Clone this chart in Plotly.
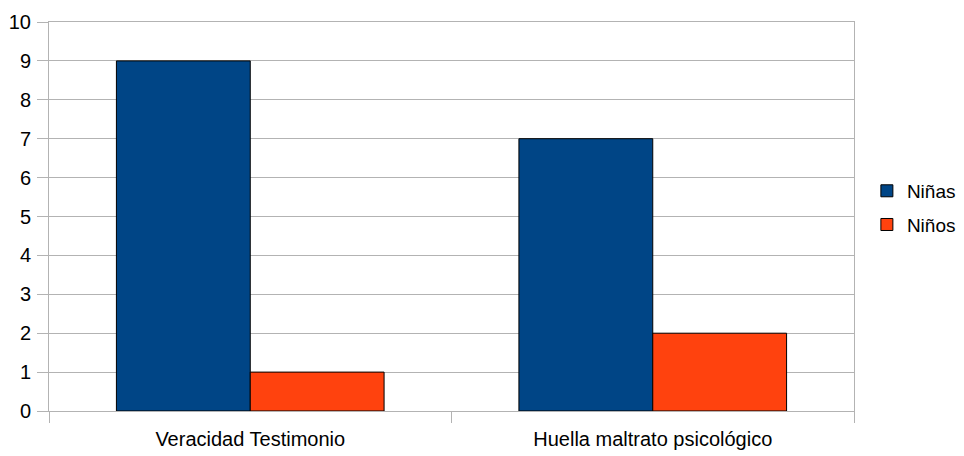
import plotly.graph_objects as go

categories = ["Veracidad Testimonio", "Huella maltrato psicológico"]
ninas = [9, 7]
ninos = [1, 2]
series_names = ["Niñas", "Niños"]
y_ticks = list(range(0, 11))

FONT = "Liberation Sans, Arial, sans-serif"
GRID = "#b3b3b3"

fig = go.Figure()
fig.add_trace(go.Bar(x=categories, y=ninas, name=series_names[0], legendgroup="a",
                     marker=dict(color="#004586", line=dict(color="#000000", width=1))))
fig.add_trace(go.Bar(x=categories, y=ninos, name=series_names[1], legendgroup="b",
                     marker=dict(color="#ff420e", line=dict(color="#000000", width=1))))

fig.update_layout(
    width=956, height=448,
    margin=dict(l=41, r=110, t=14, b=45, autoexpand=False),
    paper_bgcolor="white", plot_bgcolor="white",
    font=dict(family=FONT, size=20, color="#000000"),
    barmode="group", bargap=0.335, bargroupgap=0,
    legend=dict(x=1.016, y=0.522, xanchor="left", yanchor="middle",
                traceorder="grouped", tracegroupgap=6, itemwidth=30,
                borderwidth=0, bgcolor="rgba(0,0,0,0)",
                font=dict(family=FONT, size=19, color="#000000")),
    showlegend=True,
)
fig.update_xaxes(
    type="category", tickson="boundaries", ticks="outside", ticklen=11,
    tickcolor=GRID, tickwidth=1, showgrid=False, automargin=False,
    showline=True, linecolor=GRID, linewidth=1, mirror=True,
    ticklabelstandoff=10,
    tickfont=dict(family=FONT, size=20, color="#000000"),
)
fig.update_yaxes(
    range=[0, 10], tickvals=y_ticks, ticks="outside", ticklen=11,
    tickcolor=GRID, tickwidth=1, showgrid=True, gridcolor=GRID, gridwidth=1,
    zeroline=False, showline=True, linecolor=GRID, linewidth=1, mirror=True,
    automargin=False, ticklabelstandoff=2,
    tickfont=dict(family=FONT, size=20, color="#000000"),
)

fig.write_html("out.html")
